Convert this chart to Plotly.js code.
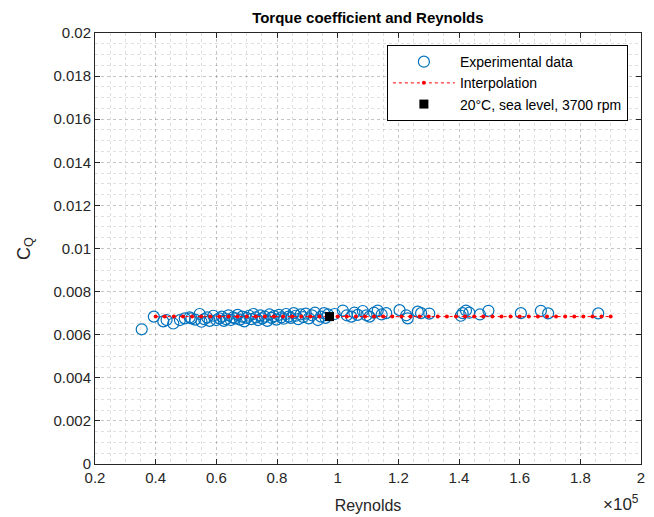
<!DOCTYPE html>
<html>
<head>
<meta charset="utf-8">
<script src="https://cdn.plot.ly/plotly-3.0.1.min.js"></script>
<style>html,body{margin:0;padding:0;background:#fff;}#chart{width:654px;height:517px;}</style>
</head>
<body>
<div id="chart"></div>
<script>
// Experimental data (Reynolds number, torque coefficient)
const expReynolds = [35400, 39400, 42500, 43600, 45800, 48000, 49600, 51200, 51800, 53000,
  54500, 55100, 56000, 57000, 57800, 59000, 60000, 61000, 61800, 62500,
  63200, 64000, 64800, 65500, 66200, 67000, 67800, 68500, 69200, 70000,
  70800, 71500, 72200, 73000, 73800, 74500, 75200, 76000, 76800, 77500,
  78200, 79000, 79800, 80600, 81400, 82200, 83000, 83800, 84600, 85500,
  86200, 87000, 87800, 88600, 89500, 90500, 91500, 92500, 93500, 94500,
  95500, 96000, 96800, 99000, 101700, 103000, 104500, 105500, 106600, 108300,
  109500, 110500, 112000, 113200, 114500, 116000, 120400, 122600, 123100, 126400,
  127500, 130200, 140600, 141200, 142300, 143400, 146900, 149700, 160400, 167000,
  169400, 185900];
const expCQ = [0.00625, 0.00684, 0.00662, 0.00668, 0.00652, 0.00668, 0.00676, 0.00680, 0.00676, 0.00670,
  0.00696, 0.00660, 0.00672, 0.00680, 0.00664, 0.00688, 0.00668, 0.00676, 0.00684, 0.00664,
  0.00672, 0.00690, 0.00668, 0.00680, 0.00676, 0.00692, 0.00670, 0.00684, 0.00662, 0.00678,
  0.00688, 0.00672, 0.00696, 0.00680, 0.00668, 0.00690, 0.00676, 0.00684, 0.00664, 0.00694,
  0.00678, 0.00686, 0.00670, 0.00692, 0.00680, 0.00674, 0.00696, 0.00684, 0.00678, 0.00700,
  0.00688, 0.00672, 0.00694, 0.00682, 0.00698, 0.00676, 0.00690, 0.00702, 0.00668, 0.00684,
  0.00700, 0.00678, 0.00694, 0.00696, 0.00712, 0.00690, 0.00684, 0.00702, 0.00692, 0.00710,
  0.00690, 0.00684, 0.00702, 0.00712, 0.00694, 0.00700, 0.00714, 0.00690, 0.00676, 0.00707,
  0.00700, 0.00698, 0.00688, 0.00700, 0.00712, 0.00702, 0.00694, 0.00711, 0.00700, 0.00711,
  0.00699, 0.00699];

// Interpolation curve
const interpReynolds = [40000, 43000, 46000, 49000, 52000, 55000, 58000, 61000, 64000, 67000,
  70000, 73000, 76000, 79000, 82000, 85000, 88000, 91000, 94000, 97000,
  100000, 103000, 106000, 109000, 112000, 115000, 118000, 121000, 124000, 127000,
  130000, 133000, 136000, 139000, 142000, 145000, 148000, 151000, 154000, 157000,
  160000, 163000, 166000, 169000, 172000, 175000, 178000, 181000, 184000, 187000,
  190000];
const interpCQ = [0.00684, 0.00684, 0.00684, 0.00684, 0.00684, 0.00684, 0.00684, 0.00684, 0.00684, 0.00684,
  0.00684, 0.00684, 0.00684, 0.00684, 0.00684, 0.00684, 0.00684, 0.00684, 0.00684, 0.00684,
  0.00684, 0.00684, 0.00684, 0.00684, 0.00684, 0.00684, 0.00684, 0.00684, 0.00684, 0.00684,
  0.00684, 0.00684, 0.00684, 0.00684, 0.00684, 0.00684, 0.00684, 0.00684, 0.00684, 0.00684,
  0.00684, 0.00684, 0.00684, 0.00684, 0.00684, 0.00684, 0.00684, 0.00684, 0.00684, 0.00684,
  0.00684];

// Operating point
const refReynolds = [97300];
const refCQ = [0.00684];

// Tick labels
const xTickVals = [20000, 40000, 60000, 80000, 100000, 120000, 140000, 160000, 180000, 200000];
const xTickText = ["0.2", "0.4", "0.6", "0.8", "1", "1.2", "1.4", "1.6", "1.8", "2"];
const yTickVals = [0, 0.002, 0.004, 0.006, 0.008, 0.01, 0.012, 0.014, 0.016, 0.018, 0.02];
const yTickText = ["0", "0.002", "0.004", "0.006", "0.008", "0.01", "0.012", "0.014", "0.016", "0.018", "0.02"];

const FONT = "Liberation Sans, Arial, Helvetica, sans-serif";
const AX = "#262626";

const traces = [
  {
    x: expReynolds, y: expCQ, type: "scatter", mode: "markers",
    name: "Experimental data",
    marker: {symbol: "circle-open", size: 11, color: "#0072BD", line: {width: 1.2, color: "#0072BD"}}
  },
  {
    x: interpReynolds, y: interpCQ, type: "scatter", mode: "lines+markers",
    name: "Interpolation",
    line: {color: "#FF0000", width: 1, dash: "dot"},
    marker: {symbol: "circle", size: 4, color: "#FF0000"}
  },
  {
    x: refReynolds, y: refCQ, type: "scatter", mode: "markers",
    name: "20°C, sea level, 3700 rpm",
    marker: {symbol: "square", size: 9, color: "#000000"}
  }
];

const gridCol = "rgba(0,0,0,0.12)";
const layout = {
  width: 654, height: 517,
  margin: {l: 95, r: 13, t: 33, b: 53},
  paper_bgcolor: "#fff", plot_bgcolor: "#fff",
  font: {family: FONT, size: 15, color: AX},
  title: {text: "<b>Torque coefficient and Reynolds</b>", font: {family: FONT, size: 15, color: "#000"}, x: 0.5625, xanchor: "center", y: 0.965, yanchor: "middle"},
  showlegend: true,
  legend: {
    x: 0.976, xanchor: "right", y: 0.972, yanchor: "top",
    bgcolor: "#fff", bordercolor: "#000", borderwidth: 1,
    font: {family: FONT, size: 14, color: "#000"},
    itemwidth: 62,
    tracegroupgap: 0
  },
  xaxis: {
    range: [20000, 200000], tickvals: xTickVals, ticktext: xTickText,
    ticks: "inside", ticklen: 5, tickcolor: AX, tickwidth: 1,
    showline: true, linecolor: AX, linewidth: 1, mirror: "ticks",
    showgrid: true, gridcolor: gridCol, griddash: "dot", gridwidth: 1,
    zeroline: false,
    minor: {dtick: 5000, showgrid: true, gridcolor: gridCol, griddash: "dot", gridwidth: 1, ticks: ""},
    tickfont: {family: FONT, size: 15, color: AX},
    title: {text: "Reynolds", font: {family: FONT, size: 16, color: AX}, standoff: 14}
  },
  yaxis: {
    range: [0, 0.02], tickvals: yTickVals, ticktext: yTickText,
    ticks: "inside", ticklen: 5, tickcolor: AX, tickwidth: 1,
    showline: true, linecolor: AX, linewidth: 1, mirror: "ticks",
    showgrid: true, gridcolor: gridCol, griddash: "dot", gridwidth: 1,
    zeroline: false,
    minor: {dtick: 0.0005, showgrid: true, gridcolor: gridCol, griddash: "dot", gridwidth: 1, ticks: ""},
    tickfont: {family: FONT, size: 15, color: AX},
    title: {text: "C<sub>Q</sub>", font: {family: FONT, size: 18, color: AX}, standoff: 18}
  },
  annotations: [
    {text: "×10<sup>5</sup>", xref: "paper", yref: "paper", x: 1.0, y: -0.121, xanchor: "right", yanchor: "bottom",
     showarrow: false, font: {family: FONT, size: 17, color: AX}}
  ]
};

Plotly.newPlot("chart", traces, layout, {displayModeBar: false, staticPlot: true});
</script>
</body>
</html>
